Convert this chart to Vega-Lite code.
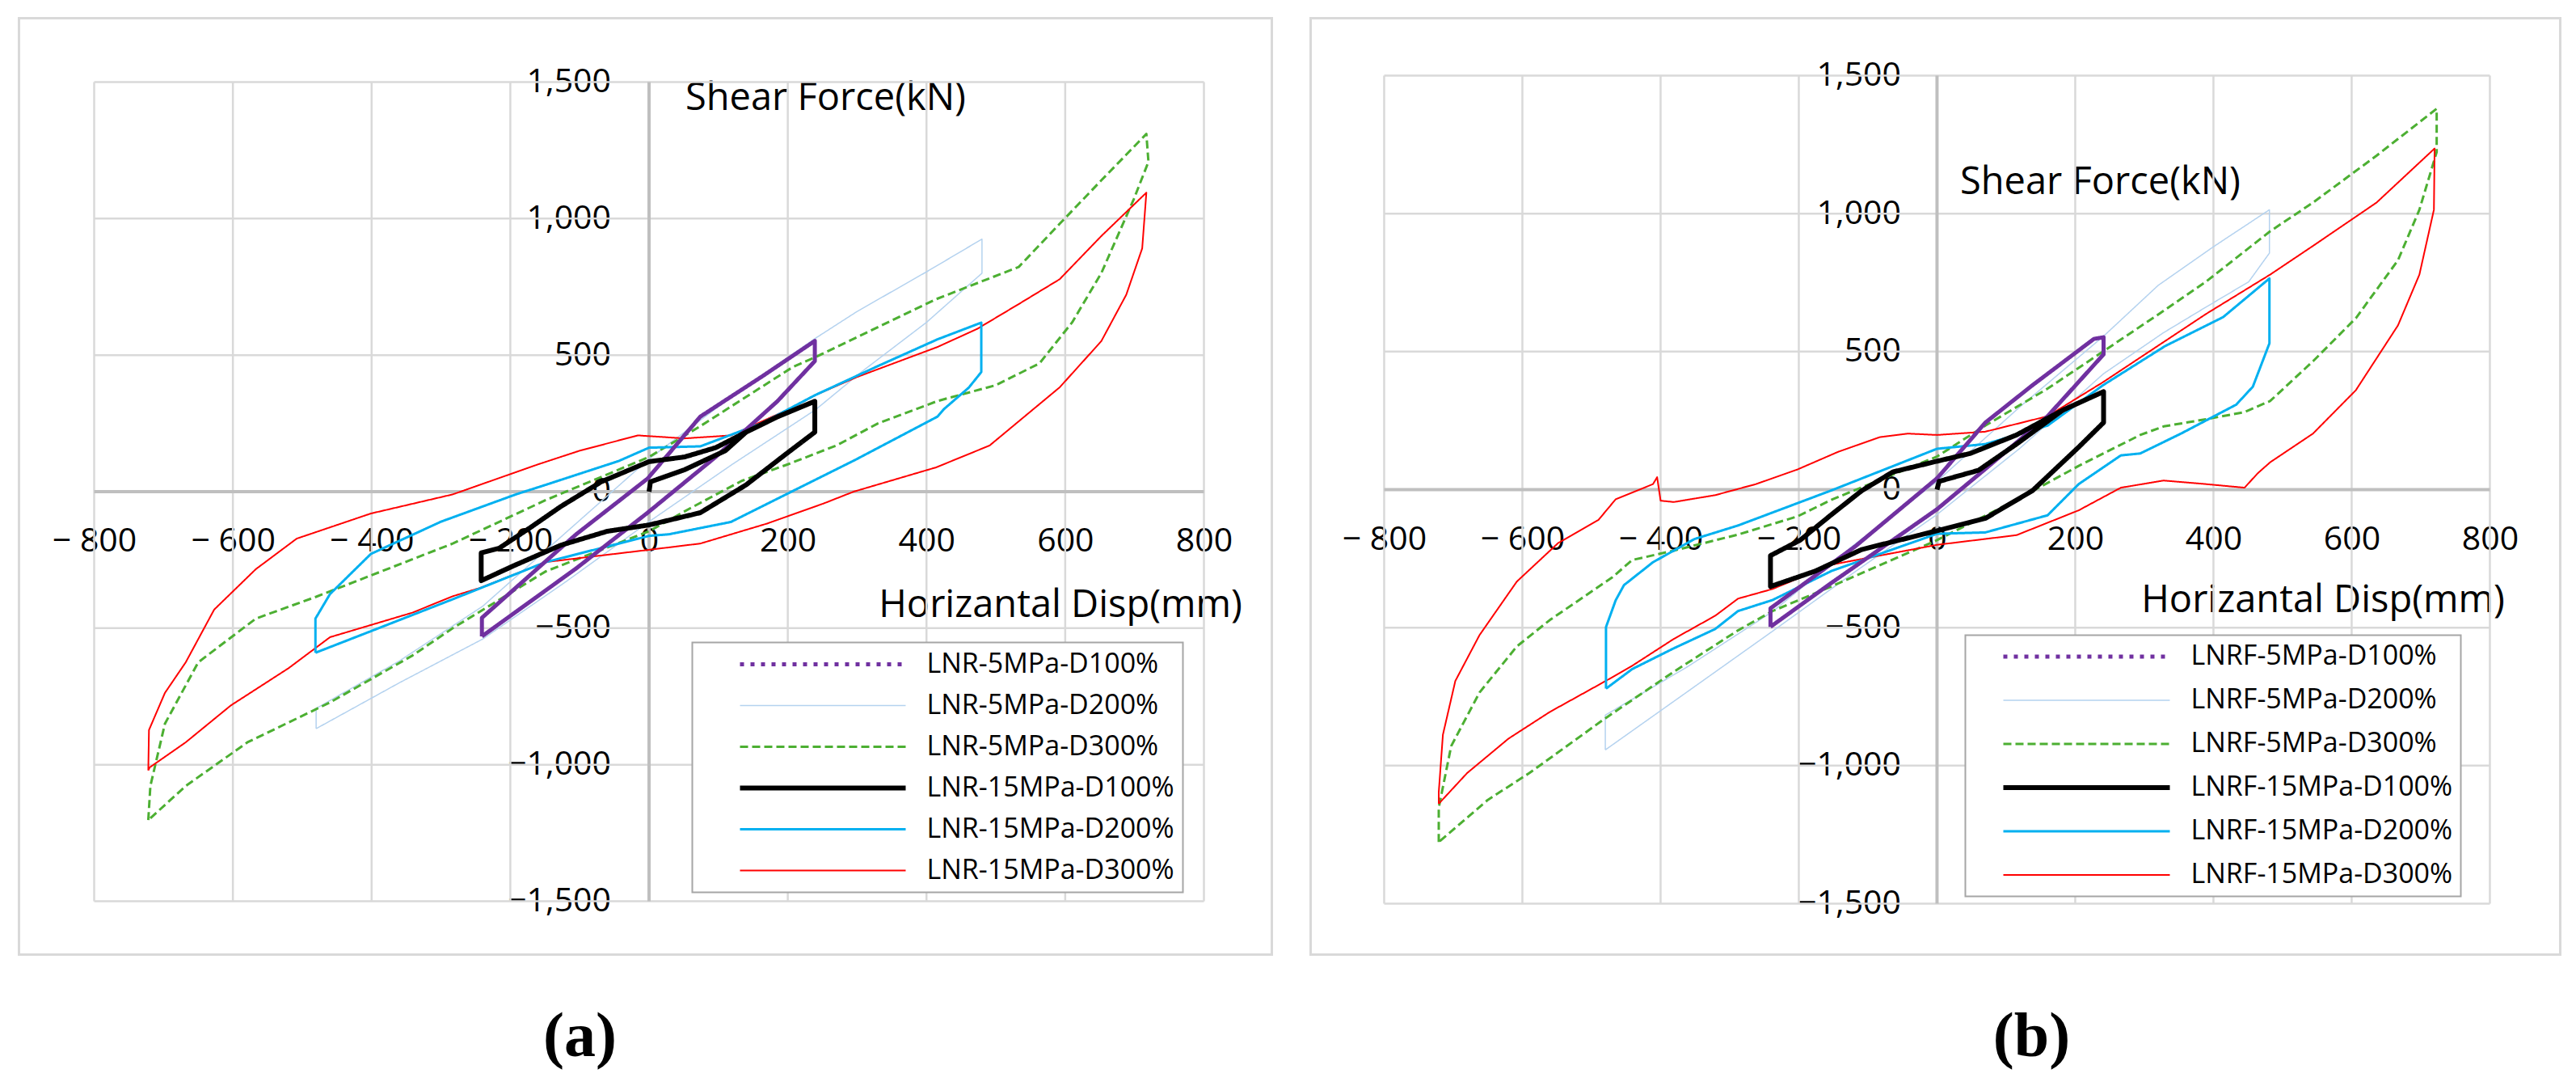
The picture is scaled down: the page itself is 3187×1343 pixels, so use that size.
{
  "$schema": "https://vega.github.io/schema/vega-lite/v6.json",
  "background": "white",
  "padding": {"left": 21.5, "top": 20.5, "right": 18, "bottom": 15},
  "spacing": 48,
  "bounds": "flush",
  "config": {
    "font": "Open Sans",
    "view": {"stroke": "#d9d9d9", "strokeWidth": 3},
    "axis": {"grid": false, "domain": false, "ticks": false, "tickSize": 0, "labelFont": "Open Sans", "labelFontSize": 41, "labelColor": "black", "labelOverlap": false, "labelFlush": false, "titleFont": "Open Sans", "titleFontSize": 47, "titleFontWeight": "normal", "titleColor": "black"},
    "legend": {"labelFont": "Open Sans", "labelFontSize": 34, "labelColor": "black", "labelLimit": 0, "fillColor": "white", "strokeColor": "#a6a6a6", "strokeWidth": 2}
  },
  "datasets": {
    "a": [
      {"s":"LNR-5MPa-D200%","x":-480,"y":-868},{"s":"LNR-5MPa-D200%","x":-360,"y":-700},{"s":"LNR-5MPa-D200%","x":-240,"y":-540},{"s":"LNR-5MPa-D200%","x":-120,"y":-330},{"s":"LNR-5MPa-D200%","x":0,"y":-110},{"s":"LNR-5MPa-D200%","x":120,"y":100},{"s":"LNR-5MPa-D200%","x":240,"y":300},{"s":"LNR-5MPa-D200%","x":307,"y":440},{"s":"LNR-5MPa-D200%","x":400,"y":620},{"s":"LNR-5MPa-D200%","x":480,"y":800},{"s":"LNR-5MPa-D200%","x":480,"y":925},{"s":"LNR-5MPa-D200%","x":400,"y":805},{"s":"LNR-5MPa-D200%","x":300,"y":660},{"s":"LNR-5MPa-D200%","x":240,"y":562},{"s":"LNR-5MPa-D200%","x":120,"y":350},{"s":"LNR-5MPa-D200%","x":0,"y":120},{"s":"LNR-5MPa-D200%","x":-120,"y":-150},{"s":"LNR-5MPa-D200%","x":-240,"y":-420},{"s":"LNR-5MPa-D200%","x":-360,"y":-620},{"s":"LNR-5MPa-D200%","x":-480,"y":-794},{"s":"LNR-5MPa-D200%","x":-480,"y":-868},

      {"s":"LNR-5MPa-D300%","x":-722,"y":-1203},{"s":"LNR-5MPa-D300%","x":-719,"y":-1078},{"s":"LNR-5MPa-D300%","x":-698,"y":-850},{"s":"LNR-5MPa-D300%","x":-650,"y":-625},{"s":"LNR-5MPa-D300%","x":-567,"y":-465},{"s":"LNR-5MPa-D300%","x":-480,"y":-385},{"s":"LNR-5MPa-D300%","x":-401,"y":-307},{"s":"LNR-5MPa-D300%","x":-283,"y":-190},{"s":"LNR-5MPa-D300%","x":-149,"y":-31},{"s":"LNR-5MPa-D300%","x":0,"y":127},{"s":"LNR-5MPa-D300%","x":74,"y":240},{"s":"LNR-5MPa-D300%","x":207,"y":456},{"s":"LNR-5MPa-D300%","x":241,"y":494},{"s":"LNR-5MPa-D300%","x":414,"y":705},{"s":"LNR-5MPa-D300%","x":533,"y":823},{"s":"LNR-5MPa-D300%","x":592,"y":981},{"s":"LNR-5MPa-D300%","x":652,"y":1140},{"s":"LNR-5MPa-D300%","x":717,"y":1310},{"s":"LNR-5MPa-D300%","x":720,"y":1208},{"s":"LNR-5MPa-D300%","x":699,"y":1072},{"s":"LNR-5MPa-D300%","x":652,"y":800},{"s":"LNR-5MPa-D300%","x":610,"y":620},{"s":"LNR-5MPa-D300%","x":563,"y":470},{"s":"LNR-5MPa-D300%","x":500,"y":390},{"s":"LNR-5MPa-D300%","x":416,"y":332},{"s":"LNR-5MPa-D300%","x":330,"y":250},{"s":"LNR-5MPa-D300%","x":271,"y":170},{"s":"LNR-5MPa-D300%","x":200,"y":100},{"s":"LNR-5MPa-D300%","x":134,"y":40},{"s":"LNR-5MPa-D300%","x":60,"y":-60},{"s":"LNR-5MPa-D300%","x":0,"y":-145},{"s":"LNR-5MPa-D300%","x":-149,"y":-292},{"s":"LNR-5MPa-D300%","x":-283,"y":-500},{"s":"LNR-5MPa-D300%","x":-341,"y":-600},{"s":"LNR-5MPa-D300%","x":-460,"y":-772},{"s":"LNR-5MPa-D300%","x":-579,"y":-918},{"s":"LNR-5MPa-D300%","x":-668,"y":-1078},{"s":"LNR-5MPa-D300%","x":-722,"y":-1203},

      {"s":"LNR-15MPa-D300%","x":-722,"y":-1021},{"s":"LNR-15MPa-D300%","x":-721,"y":-873},{"s":"LNR-15MPa-D300%","x":-698,"y":-737},{"s":"LNR-15MPa-D300%","x":-668,"y":-625},{"s":"LNR-15MPa-D300%","x":-627,"y":-432},{"s":"LNR-15MPa-D300%","x":-567,"y":-284},{"s":"LNR-15MPa-D300%","x":-508,"y":-172},{"s":"LNR-15MPa-D300%","x":-401,"y":-80},{"s":"LNR-15MPa-D300%","x":-283,"y":-10},{"s":"LNR-15MPa-D300%","x":-160,"y":100},{"s":"LNR-15MPa-D300%","x":-100,"y":150},{"s":"LNR-15MPa-D300%","x":-16,"y":206},{"s":"LNR-15MPa-D300%","x":51,"y":195},{"s":"LNR-15MPa-D300%","x":118,"y":206},{"s":"LNR-15MPa-D300%","x":207,"y":308},{"s":"LNR-15MPa-D300%","x":239,"y":353},{"s":"LNR-15MPa-D300%","x":300,"y":420},{"s":"LNR-15MPa-D300%","x":416,"y":530},{"s":"LNR-15MPa-D300%","x":473,"y":596},{"s":"LNR-15MPa-D300%","x":533,"y":687},{"s":"LNR-15MPa-D300%","x":592,"y":778},{"s":"LNR-15MPa-D300%","x":652,"y":936},{"s":"LNR-15MPa-D300%","x":717,"y":1095},{"s":"LNR-15MPa-D300%","x":711,"y":891},{"s":"LNR-15MPa-D300%","x":688,"y":721},{"s":"LNR-15MPa-D300%","x":652,"y":551},{"s":"LNR-15MPa-D300%","x":592,"y":382},{"s":"LNR-15MPa-D300%","x":491,"y":169},{"s":"LNR-15MPa-D300%","x":414,"y":89},{"s":"LNR-15MPa-D300%","x":295,"y":0},{"s":"LNR-15MPa-D300%","x":252,"y":-43},{"s":"LNR-15MPa-D300%","x":170,"y":-117},{"s":"LNR-15MPa-D300%","x":74,"y":-190},{"s":"LNR-15MPa-D300%","x":0,"y":-213},{"s":"LNR-15MPa-D300%","x":-149,"y":-258},{"s":"LNR-15MPa-D300%","x":-243,"y":-352},{"s":"LNR-15MPa-D300%","x":-283,"y":-383},{"s":"LNR-15MPa-D300%","x":-341,"y":-443},{"s":"LNR-15MPa-D300%","x":-460,"y":-533},{"s":"LNR-15MPa-D300%","x":-520,"y":-647},{"s":"LNR-15MPa-D300%","x":-603,"y":-783},{"s":"LNR-15MPa-D300%","x":-668,"y":-918},{"s":"LNR-15MPa-D300%","x":-720,"y":-1010},{"s":"LNR-15MPa-D300%","x":-722,"y":-1021},

      {"s":"LNR-15MPa-D200%","x":-481,"y":-590},{"s":"LNR-15MPa-D200%","x":-481,"y":-465},{"s":"LNR-15MPa-D200%","x":-460,"y":-375},{"s":"LNR-15MPa-D200%","x":-401,"y":-228},{"s":"LNR-15MPa-D200%","x":-300,"y":-110},{"s":"LNR-15MPa-D200%","x":-192,"y":-10},{"s":"LNR-15MPa-D200%","x":-149,"y":25},{"s":"LNR-15MPa-D200%","x":-44,"y":112},{"s":"LNR-15MPa-D200%","x":0,"y":161},{"s":"LNR-15MPa-D200%","x":74,"y":166},{"s":"LNR-15MPa-D200%","x":163,"y":251},{"s":"LNR-15MPa-D200%","x":239,"y":353},{"s":"LNR-15MPa-D200%","x":330,"y":460},{"s":"LNR-15MPa-D200%","x":416,"y":558},{"s":"LNR-15MPa-D200%","x":479,"y":619},{"s":"LNR-15MPa-D200%","x":479,"y":438},{"s":"LNR-15MPa-D200%","x":461,"y":381},{"s":"LNR-15MPa-D200%","x":425,"y":302},{"s":"LNR-15MPa-D200%","x":416,"y":275},{"s":"LNR-15MPa-D200%","x":297,"y":116},{"s":"LNR-15MPa-D200%","x":207,"y":2},{"s":"LNR-15MPa-D200%","x":118,"y":-111},{"s":"LNR-15MPa-D200%","x":29,"y":-156},{"s":"LNR-15MPa-D200%","x":0,"y":-162},{"s":"LNR-15MPa-D200%","x":-149,"y":-258},{"s":"LNR-15MPa-D200%","x":-283,"y":-394},{"s":"LNR-15MPa-D200%","x":-401,"y":-511},{"s":"LNR-15MPa-D200%","x":-481,"y":-590},

      {"s":"LNR-5MPa-D100%","x":-241,"y":-530},{"s":"LNR-5MPa-D100%","x":-105,"y":-281},{"s":"LNR-5MPa-D100%","x":-2,"y":-77},{"s":"LNR-5MPa-D100%","x":96,"y":127},{"s":"LNR-5MPa-D100%","x":185,"y":331},{"s":"LNR-5MPa-D100%","x":239,"y":478},{"s":"LNR-5MPa-D100%","x":239,"y":552},{"s":"LNR-5MPa-D100%","x":163,"y":422},{"s":"LNR-5MPa-D100%","x":74,"y":275},{"s":"LNR-5MPa-D100%","x":-2,"y":48},{"s":"LNR-5MPa-D100%","x":-105,"y":-156},{"s":"LNR-5MPa-D100%","x":-241,"y":-462},{"s":"LNR-5MPa-D100%","x":-241,"y":-530},

      {"s":"LNR-15MPa-D100%","x":0,"y":0},{"s":"LNR-15MPa-D100%","x":2,"y":36},{"s":"LNR-15MPa-D100%","x":51,"y":80},{"s":"LNR-15MPa-D100%","x":110,"y":150},{"s":"LNR-15MPa-D100%","x":140,"y":218},{"s":"LNR-15MPa-D100%","x":185,"y":274},{"s":"LNR-15MPa-D100%","x":239,"y":331},{"s":"LNR-15MPa-D100%","x":239,"y":218},{"s":"LNR-15MPa-D100%","x":198,"y":139},{"s":"LNR-15MPa-D100%","x":140,"y":25},{"s":"LNR-15MPa-D100%","x":74,"y":-77},{"s":"LNR-15MPa-D100%","x":0,"y":-122},{"s":"LNR-15MPa-D100%","x":-60,"y":-145},{"s":"LNR-15MPa-D100%","x":-127,"y":-196},{"s":"LNR-15MPa-D100%","x":-194,"y":-270},{"s":"LNR-15MPa-D100%","x":-242,"y":-326},{"s":"LNR-15MPa-D100%","x":-242,"y":-224},{"s":"LNR-15MPa-D100%","x":-216,"y":-207},{"s":"LNR-15MPa-D100%","x":-172,"y":-133},{"s":"LNR-15MPa-D100%","x":-127,"y":-54},{"s":"LNR-15MPa-D100%","x":-69,"y":36},{"s":"LNR-15MPa-D100%","x":0,"y":110},{"s":"LNR-15MPa-D100%","x":51,"y":127},{"s":"LNR-15MPa-D100%","x":96,"y":161},{"s":"LNR-15MPa-D100%","x":140,"y":218},{"s":"LNR-15MPa-D100%","x":185,"y":274},{"s":"LNR-15MPa-D100%","x":239,"y":331}
    ],
    "b": [
      {"s":"LNRF-5MPa-D200%","x":-480,"y":-943},{"s":"LNRF-5MPa-D200%","x":-360,"y":-730},{"s":"LNRF-5MPa-D200%","x":-238,"y":-513},{"s":"LNRF-5MPa-D200%","x":-120,"y":-300},{"s":"LNRF-5MPa-D200%","x":0,"y":-90},{"s":"LNRF-5MPa-D200%","x":120,"y":150},{"s":"LNRF-5MPa-D200%","x":241,"y":420},{"s":"LNRF-5MPa-D200%","x":328,"y":569},{"s":"LNRF-5MPa-D200%","x":389,"y":661},{"s":"LNRF-5MPa-D200%","x":451,"y":753},{"s":"LNRF-5MPa-D200%","x":481,"y":857},{"s":"LNRF-5MPa-D200%","x":481,"y":1014},{"s":"LNRF-5MPa-D200%","x":400,"y":880},{"s":"LNRF-5MPa-D200%","x":320,"y":740},{"s":"LNRF-5MPa-D200%","x":241,"y":556},{"s":"LNRF-5MPa-D200%","x":120,"y":300},{"s":"LNRF-5MPa-D200%","x":0,"y":30},{"s":"LNRF-5MPa-D200%","x":-120,"y":-200},{"s":"LNRF-5MPa-D200%","x":-238,"y":-442},{"s":"LNRF-5MPa-D200%","x":-360,"y":-640},{"s":"LNRF-5MPa-D200%","x":-480,"y":-817},{"s":"LNRF-5MPa-D200%","x":-480,"y":-943},

      {"s":"LNRF-5MPa-D300%","x":-721,"y":-1277},{"s":"LNRF-5MPa-D300%","x":-721,"y":-1152},{"s":"LNRF-5MPa-D300%","x":-703,"y":-929},{"s":"LNRF-5MPa-D300%","x":-662,"y":-735},{"s":"LNRF-5MPa-D300%","x":-608,"y":-568},{"s":"LNRF-5MPa-D300%","x":-560,"y":-472},{"s":"LNRF-5MPa-D300%","x":-470,"y":-318},{"s":"LNRF-5MPa-D300%","x":-441,"y":-255},{"s":"LNRF-5MPa-D300%","x":-381,"y":-221},{"s":"LNRF-5MPa-D300%","x":-288,"y":-163},{"s":"LNRF-5MPa-D300%","x":-202,"y":-97},{"s":"LNRF-5MPa-D300%","x":-153,"y":-37},{"s":"LNRF-5MPa-D300%","x":0,"y":120},{"s":"LNRF-5MPa-D300%","x":70,"y":232},{"s":"LNRF-5MPa-D300%","x":160,"y":366},{"s":"LNRF-5MPa-D300%","x":249,"y":515},{"s":"LNRF-5MPa-D300%","x":328,"y":648},{"s":"LNRF-5MPa-D300%","x":389,"y":753},{"s":"LNRF-5MPa-D300%","x":482,"y":936},{"s":"LNRF-5MPa-D300%","x":544,"y":1040},{"s":"LNRF-5MPa-D300%","x":636,"y":1210},{"s":"LNRF-5MPa-D300%","x":723,"y":1380},{"s":"LNRF-5MPa-D300%","x":723,"y":1223},{"s":"LNRF-5MPa-D300%","x":698,"y":1014},{"s":"LNRF-5MPa-D300%","x":667,"y":831},{"s":"LNRF-5MPa-D300%","x":606,"y":621},{"s":"LNRF-5MPa-D300%","x":544,"y":465},{"s":"LNRF-5MPa-D300%","x":482,"y":321},{"s":"LNRF-5MPa-D300%","x":445,"y":281},{"s":"LNRF-5MPa-D300%","x":389,"y":255},{"s":"LNRF-5MPa-D300%","x":328,"y":229},{"s":"LNRF-5MPa-D300%","x":294,"y":198},{"s":"LNRF-5MPa-D300%","x":205,"y":86},{"s":"LNRF-5MPa-D300%","x":115,"y":-37},{"s":"LNRF-5MPa-D300%","x":0,"y":-183},{"s":"LNRF-5MPa-D300%","x":-153,"y":-351},{"s":"LNRF-5MPa-D300%","x":-238,"y":-440},{"s":"LNRF-5MPa-D300%","x":-288,"y":-510},{"s":"LNRF-5MPa-D300%","x":-381,"y":-660},{"s":"LNRF-5MPa-D300%","x":-441,"y":-762},{"s":"LNRF-5MPa-D300%","x":-482,"y":-832},{"s":"LNRF-5MPa-D300%","x":-590,"y":-1027},{"s":"LNRF-5MPa-D300%","x":-650,"y":-1124},{"s":"LNRF-5MPa-D300%","x":-721,"y":-1277},

      {"s":"LNRF-15MPa-D300%","x":-721,"y":-1138},{"s":"LNRF-15MPa-D300%","x":-721,"y":-1096},{"s":"LNRF-15MPa-D300%","x":-715,"y":-888},{"s":"LNRF-15MPa-D300%","x":-697,"y":-693},{"s":"LNRF-15MPa-D300%","x":-662,"y":-527},{"s":"LNRF-15MPa-D300%","x":-608,"y":-333},{"s":"LNRF-15MPa-D300%","x":-548,"y":-193},{"s":"LNRF-15MPa-D300%","x":-490,"y":-110},{"s":"LNRF-15MPa-D300%","x":-465,"y":-35},{"s":"LNRF-15MPa-D300%","x":-411,"y":20},{"s":"LNRF-15MPa-D300%","x":-405,"y":45},{"s":"LNRF-15MPa-D300%","x":-400,"y":-40},{"s":"LNRF-15MPa-D300%","x":-381,"y":-45},{"s":"LNRF-15MPa-D300%","x":-321,"y":-20},{"s":"LNRF-15MPa-D300%","x":-262,"y":20},{"s":"LNRF-15MPa-D300%","x":-202,"y":73},{"s":"LNRF-15MPa-D300%","x":-143,"y":137},{"s":"LNRF-15MPa-D300%","x":-83,"y":190},{"s":"LNRF-15MPa-D300%","x":-42,"y":203},{"s":"LNRF-15MPa-D300%","x":0,"y":198},{"s":"LNRF-15MPa-D300%","x":70,"y":210},{"s":"LNRF-15MPa-D300%","x":160,"y":266},{"s":"LNRF-15MPa-D300%","x":240,"y":389},{"s":"LNRF-15MPa-D300%","x":389,"y":636},{"s":"LNRF-15MPa-D300%","x":482,"y":779},{"s":"LNRF-15MPa-D300%","x":544,"y":883},{"s":"LNRF-15MPa-D300%","x":636,"y":1040},{"s":"LNRF-15MPa-D300%","x":720,"y":1236},{"s":"LNRF-15MPa-D300%","x":719,"y":1014},{"s":"LNRF-15MPa-D300%","x":698,"y":779},{"s":"LNRF-15MPa-D300%","x":667,"y":595},{"s":"LNRF-15MPa-D300%","x":606,"y":360},{"s":"LNRF-15MPa-D300%","x":544,"y":203},{"s":"LNRF-15MPa-D300%","x":482,"y":99},{"s":"LNRF-15MPa-D300%","x":464,"y":59},{"s":"LNRF-15MPa-D300%","x":445,"y":7},{"s":"LNRF-15MPa-D300%","x":389,"y":20},{"s":"LNRF-15MPa-D300%","x":328,"y":33},{"s":"LNRF-15MPa-D300%","x":266,"y":7},{"s":"LNRF-15MPa-D300%","x":205,"y":-75},{"s":"LNRF-15MPa-D300%","x":115,"y":-165},{"s":"LNRF-15MPa-D300%","x":0,"y":-200},{"s":"LNRF-15MPa-D300%","x":-153,"y":-272},{"s":"LNRF-15MPa-D300%","x":-238,"y":-360},{"s":"LNRF-15MPa-D300%","x":-288,"y":-395},{"s":"LNRF-15MPa-D300%","x":-321,"y":-457},{"s":"LNRF-15MPa-D300%","x":-381,"y":-541},{"s":"LNRF-15MPa-D300%","x":-441,"y":-638},{"s":"LNRF-15MPa-D300%","x":-480,"y":-694},{"s":"LNRF-15MPa-D300%","x":-560,"y":-805},{"s":"LNRF-15MPa-D300%","x":-620,"y":-902},{"s":"LNRF-15MPa-D300%","x":-680,"y":-1027},{"s":"LNRF-15MPa-D300%","x":-721,"y":-1138},

      {"s":"LNRF-15MPa-D200%","x":-479,"y":-721},{"s":"LNRF-15MPa-D200%","x":-479,"y":-498},{"s":"LNRF-15MPa-D200%","x":-465,"y":-401},{"s":"LNRF-15MPa-D200%","x":-453,"y":-346},{"s":"LNRF-15MPa-D200%","x":-411,"y":-263},{"s":"LNRF-15MPa-D200%","x":-351,"y":-179},{"s":"LNRF-15MPa-D200%","x":-288,"y":-130},{"s":"LNRF-15MPa-D200%","x":-153,"y":-3},{"s":"LNRF-15MPa-D200%","x":0,"y":148},{"s":"LNRF-15MPa-D200%","x":70,"y":165},{"s":"LNRF-15MPa-D200%","x":160,"y":232},{"s":"LNRF-15MPa-D200%","x":240,"y":378},{"s":"LNRF-15MPa-D200%","x":330,"y":520},{"s":"LNRF-15MPa-D200%","x":414,"y":625},{"s":"LNRF-15MPa-D200%","x":481,"y":765},{"s":"LNRF-15MPa-D200%","x":481,"y":530},{"s":"LNRF-15MPa-D200%","x":457,"y":373},{"s":"LNRF-15MPa-D200%","x":433,"y":308},{"s":"LNRF-15MPa-D200%","x":353,"y":203},{"s":"LNRF-15MPa-D200%","x":294,"y":131},{"s":"LNRF-15MPa-D200%","x":266,"y":124},{"s":"LNRF-15MPa-D200%","x":205,"y":20},{"s":"LNRF-15MPa-D200%","x":160,"y":-93},{"s":"LNRF-15MPa-D200%","x":70,"y":-155},{"s":"LNRF-15MPa-D200%","x":0,"y":-160},{"s":"LNRF-15MPa-D200%","x":-153,"y":-295},{"s":"LNRF-15MPa-D200%","x":-238,"y":-400},{"s":"LNRF-15MPa-D200%","x":-288,"y":-440},{"s":"LNRF-15MPa-D200%","x":-321,"y":-505},{"s":"LNRF-15MPa-D200%","x":-381,"y":-575},{"s":"LNRF-15MPa-D200%","x":-441,"y":-650},{"s":"LNRF-15MPa-D200%","x":-479,"y":-721},

      {"s":"LNRF-5MPa-D100%","x":-241,"y":-497},{"s":"LNRF-5MPa-D100%","x":-154,"y":-340},{"s":"LNRF-5MPa-D100%","x":-64,"y":-183},{"s":"LNRF-5MPa-D100%","x":0,"y":-71},{"s":"LNRF-5MPa-D100%","x":70,"y":75},{"s":"LNRF-5MPa-D100%","x":160,"y":266},{"s":"LNRF-5MPa-D100%","x":241,"y":490},{"s":"LNRF-5MPa-D100%","x":241,"y":552},{"s":"LNRF-5MPa-D100%","x":227,"y":546},{"s":"LNRF-5MPa-D100%","x":138,"y":378},{"s":"LNRF-5MPa-D100%","x":70,"y":243},{"s":"LNRF-5MPa-D100%","x":0,"y":41},{"s":"LNRF-5MPa-D100%","x":-118,"y":-205},{"s":"LNRF-5MPa-D100%","x":-241,"y":-430},{"s":"LNRF-5MPa-D100%","x":-241,"y":-497},

      {"s":"LNRF-15MPa-D100%","x":0,"y":0},{"s":"LNRF-15MPa-D100%","x":3,"y":30},{"s":"LNRF-15MPa-D100%","x":60,"y":70},{"s":"LNRF-15MPa-D100%","x":115,"y":165},{"s":"LNRF-15MPa-D100%","x":182,"y":288},{"s":"LNRF-15MPa-D100%","x":241,"y":355},{"s":"LNRF-15MPa-D100%","x":241,"y":243},{"s":"LNRF-15MPa-D100%","x":205,"y":154},{"s":"LNRF-15MPa-D100%","x":138,"y":-4},{"s":"LNRF-15MPa-D100%","x":70,"y":-104},{"s":"LNRF-15MPa-D100%","x":0,"y":-149},{"s":"LNRF-15MPa-D100%","x":-109,"y":-217},{"s":"LNRF-15MPa-D100%","x":-176,"y":-295},{"s":"LNRF-15MPa-D100%","x":-241,"y":-351},{"s":"LNRF-15MPa-D100%","x":-241,"y":-239},{"s":"LNRF-15MPa-D100%","x":-198,"y":-183},{"s":"LNRF-15MPa-D100%","x":-154,"y":-93},{"s":"LNRF-15MPa-D100%","x":-109,"y":-4},{"s":"LNRF-15MPa-D100%","x":-64,"y":64},{"s":"LNRF-15MPa-D100%","x":0,"y":103},{"s":"LNRF-15MPa-D100%","x":48,"y":131},{"s":"LNRF-15MPa-D100%","x":115,"y":198},{"s":"LNRF-15MPa-D100%","x":182,"y":288},{"s":"LNRF-15MPa-D100%","x":241,"y":355}
    ]
  },
  "resolve": {
    "scale": {"x": "independent", "y": "independent", "color": "independent", "strokeWidth": "independent"},
    "axis": {"x": "independent", "y": "independent"},
    "legend": {"color": "independent", "strokeWidth": "independent"}
  },
  "hconcat": [
    {
      "width": 1550,
      "height": 1158,
      "title": {"text": "(a)", "orient": "bottom", "frame": "group", "anchor": "middle", "dx": -81, "offset": 125, "baseline": "alphabetic", "font": "Liberation Serif", "fontSize": 78, "fontWeight": "bold", "color": "black"},
      "layer": [
        {
          "data": {"values": [{"x": -800}, {"x": -600}, {"x": -400}, {"x": -200}, {"x": 200}, {"x": 400}, {"x": 600}, {"x": 800}]},
          "mark": {"type": "rule", "color": "#d9d9d9", "strokeWidth": 2.5},
          "encoding": {
            "x": {"field": "x", "type": "quantitative", "scale": {"domain": [-908.4, 897.9], "nice": false, "zero": false},
                  "axis": {"orient": "bottom", "offset": -572.5, "values": [-800, -600, -400, -200, 0, 200, 400, 600, 800], "labelPadding": 61.5, "labelBaseline": "middle", "labelExpr": "datum.value < 0 ? '− ' + format(-datum.value, 'd') : format(datum.value, 'd')", "title": "Horizantal Disp(mm)", "titleX": 1513, "titleY": 154.5, "titleAlign": "right", "titleBaseline": "alphabetic", "titleAngle": 0}},
            "y": {"datum": -1500, "type": "quantitative", "scale": {"domain": [-1695.5, 1734], "nice": false, "zero": false},
                  "axis": {"orient": "left", "offset": -779.5, "values": [-1500, -1000, -500, 0, 500, 1000, 1500], "format": ",d", "labelPadding": 47.5, "title": "Shear Force(kN)", "titleAngle": 0, "titleX": 44.5, "titleY": 112.7, "titleAlign": "left", "titleBaseline": "alphabetic"}},
            "y2": {"datum": 1500}
          }
        },
        {
          "data": {"values": [{"y": -1500}, {"y": -1000}, {"y": -500}, {"y": 500}, {"y": 1000}, {"y": 1500}]},
          "mark": {"type": "rule", "color": "#d9d9d9", "strokeWidth": 2.5},
          "encoding": {
            "y": {"field": "y", "type": "quantitative", "scale": {"domain": [-1695.5, 1734], "nice": false, "zero": false},
                  "axis": {"orient": "left", "offset": -779.5, "values": [-1500, -1000, -500, 0, 500, 1000, 1500], "format": ",d", "labelPadding": 47.5, "title": "Shear Force(kN)", "titleAngle": 0, "titleX": 44.5, "titleY": 112.7, "titleAlign": "left", "titleBaseline": "alphabetic"}},
            "x": {"datum": -800, "type": "quantitative", "scale": {"domain": [-908.4, 897.9], "nice": false, "zero": false},
                  "axis": {"orient": "bottom", "offset": -572.5, "values": [-800, -600, -400, -200, 0, 200, 400, 600, 800], "labelPadding": 61.5, "labelBaseline": "middle", "labelExpr": "datum.value < 0 ? '− ' + format(-datum.value, 'd') : format(datum.value, 'd')", "title": "Horizantal Disp(mm)", "titleX": 1513, "titleY": 154.5, "titleAlign": "right", "titleBaseline": "alphabetic", "titleAngle": 0}},
            "x2": {"datum": 800}
          }
        },
        {
          "data": {"values": [{}]},
          "mark": {"type": "rule", "color": "#bfbfbf", "strokeWidth": 4},
          "encoding": {
            "x": {"datum": 0, "type": "quantitative", "scale": {"domain": [-908.4, 897.9], "nice": false, "zero": false},
                  "axis": {"orient": "bottom", "offset": -572.5, "values": [-800, -600, -400, -200, 0, 200, 400, 600, 800], "labelPadding": 61.5, "labelBaseline": "middle", "labelExpr": "datum.value < 0 ? '− ' + format(-datum.value, 'd') : format(datum.value, 'd')", "title": "Horizantal Disp(mm)", "titleX": 1513, "titleY": 154.5, "titleAlign": "right", "titleBaseline": "alphabetic", "titleAngle": 0}},
            "y": {"datum": -1500, "type": "quantitative", "scale": {"domain": [-1695.5, 1734], "nice": false, "zero": false},
                  "axis": {"orient": "left", "offset": -779.5, "values": [-1500, -1000, -500, 0, 500, 1000, 1500], "format": ",d", "labelPadding": 47.5, "title": "Shear Force(kN)", "titleAngle": 0, "titleX": 44.5, "titleY": 112.7, "titleAlign": "left", "titleBaseline": "alphabetic"}},
            "y2": {"datum": 1500}
          }
        },
        {
          "data": {"values": [{}]},
          "mark": {"type": "rule", "color": "#bfbfbf", "strokeWidth": 4},
          "encoding": {
            "y": {"datum": 0, "type": "quantitative", "scale": {"domain": [-1695.5, 1734], "nice": false, "zero": false},
                  "axis": {"orient": "left", "offset": -779.5, "values": [-1500, -1000, -500, 0, 500, 1000, 1500], "format": ",d", "labelPadding": 47.5, "title": "Shear Force(kN)", "titleAngle": 0, "titleX": 44.5, "titleY": 112.7, "titleAlign": "left", "titleBaseline": "alphabetic"}},
            "x": {"datum": -800, "type": "quantitative", "scale": {"domain": [-908.4, 897.9], "nice": false, "zero": false},
                  "axis": {"orient": "bottom", "offset": -572.5, "values": [-800, -600, -400, -200, 0, 200, 400, 600, 800], "labelPadding": 61.5, "labelBaseline": "middle", "labelExpr": "datum.value < 0 ? '− ' + format(-datum.value, 'd') : format(datum.value, 'd')", "title": "Horizantal Disp(mm)", "titleX": 1513, "titleY": 154.5, "titleAlign": "right", "titleBaseline": "alphabetic", "titleAngle": 0}},
            "x2": {"datum": 800}
          }
        },
        {
          "data": {"name": "a"},
          "mark": {"type": "line", "strokeJoin": "round"},
          "encoding": {
            "x": {"field": "x", "type": "quantitative", "scale": {"domain": [-908.4, 897.9], "nice": false, "zero": false},
                  "axis": {"orient": "bottom", "offset": -572.5, "values": [-800, -600, -400, -200, 0, 200, 400, 600, 800], "labelPadding": 61.5, "labelBaseline": "middle", "labelExpr": "datum.value < 0 ? '− ' + format(-datum.value, 'd') : format(datum.value, 'd')", "title": "Horizantal Disp(mm)", "titleX": 1513, "titleY": 154.5, "titleAlign": "right", "titleBaseline": "alphabetic", "titleAngle": 0}},
            "y": {"field": "y", "type": "quantitative", "scale": {"domain": [-1695.5, 1734], "nice": false, "zero": false},
                  "axis": {"orient": "left", "offset": -779.5, "values": [-1500, -1000, -500, 0, 500, 1000, 1500], "format": ",d", "labelPadding": 47.5, "title": "Shear Force(kN)", "titleAngle": 0, "titleX": 44.5, "titleY": 112.7, "titleAlign": "left", "titleBaseline": "alphabetic"}},
            "order": {"value": null},
            "color": {
              "field": "s", "type": "nominal",
              "scale": {"domain": ["LNR-5MPa-D100%", "LNR-5MPa-D200%", "LNR-5MPa-D300%", "LNR-15MPa-D100%", "LNR-15MPa-D200%", "LNR-15MPa-D300%"], "range": ["#7030a0", "#b4d2ef", "#4caf32", "#000000", "#00b0f0", "#ff0000"]},
              "legend": {"orient": "none", "legendX": 833, "legendY": 772, "title": null, "direction": "vertical", "symbolType": "stroke", "symbolSize": 42025, "clipHeight": 34, "rowPadding": 17, "padding": 10, "symbolOffset": 46, "labelOffset": 23, "encode": {"symbols": {"update": {"strokeDash": {"signal": "indexof(datum.value, '-5MPa-D100') >= 0 ? [5, 8] : indexof(datum.value, '-5MPa-D300') >= 0 ? [10, 5] : [1, 0]"}}}}}
            },
            "strokeWidth": {
              "field": "s", "type": "nominal",
              "scale": {"type": "ordinal", "domain": ["LNR-5MPa-D100%", "LNR-5MPa-D200%", "LNR-5MPa-D300%", "LNR-15MPa-D100%", "LNR-15MPa-D200%", "LNR-15MPa-D300%"], "range": [5, 1.5, 3, 6, 3, 2]},
              "legend": {"orient": "none", "legendX": 833, "legendY": 772, "title": null, "direction": "vertical", "symbolType": "stroke", "symbolSize": 42025, "clipHeight": 34, "rowPadding": 17, "padding": 10, "symbolOffset": 46, "labelOffset": 23, "encode": {"symbols": {"update": {"strokeDash": {"signal": "indexof(datum.value, '-5MPa-D100') >= 0 ? [5, 8] : indexof(datum.value, '-5MPa-D300') >= 0 ? [10, 5] : [1, 0]"}}}}}
            },
            "strokeDash": {"condition": {"test": "indexof(datum.s, '-5MPa-D300') >= 0", "value": [10, 5]}, "value": [1, 0]}
          }
        }
      ]
    },
    {
      "width": 1546,
      "height": 1158,
      "title": {"text": "(b)", "orient": "bottom", "frame": "group", "anchor": "middle", "dx": 119, "offset": 125, "baseline": "alphabetic", "font": "Liberation Serif", "fontSize": 78, "fontWeight": "bold", "color": "black"},
      "layer": [
        {
          "data": {"values": [{"x": -800}, {"x": -600}, {"x": -400}, {"x": -200}, {"x": 200}, {"x": 400}, {"x": 600}, {"x": 800}]},
          "mark": {"type": "rule", "color": "#d9d9d9", "strokeWidth": 2.5},
          "encoding": {
            "x": {"field": "x", "type": "quantitative", "scale": {"domain": [-906.4, 901.8], "nice": false, "zero": false},
                  "axis": {"orient": "bottom", "offset": -575, "values": [-800, -600, -400, -200, 0, 200, 400, 600, 800], "labelPadding": 62.4, "labelBaseline": "middle", "labelExpr": "datum.value < 0 ? '− ' + format(-datum.value, 'd') : format(datum.value, 'd')", "title": "Horizantal Disp(mm)", "titleX": 1477, "titleY": 151, "titleAlign": "right", "titleBaseline": "alphabetic", "titleAngle": 0}},
            "y": {"datum": -1500, "type": "quantitative", "scale": {"domain": [-1684.6, 1708], "nice": false, "zero": false},
                  "axis": {"orient": "left", "offset": -775, "values": [-1500, -1000, -500, 0, 500, 1000, 1500], "format": ",d", "labelPadding": 45, "title": "Shear Force(kN)", "titleAngle": 0, "titleX": 28, "titleY": 216.8, "titleAlign": "left", "titleBaseline": "alphabetic"}},
            "y2": {"datum": 1500}
          }
        },
        {
          "data": {"values": [{"y": -1500}, {"y": -1000}, {"y": -500}, {"y": 500}, {"y": 1000}, {"y": 1500}]},
          "mark": {"type": "rule", "color": "#d9d9d9", "strokeWidth": 2.5},
          "encoding": {
            "y": {"field": "y", "type": "quantitative", "scale": {"domain": [-1684.6, 1708], "nice": false, "zero": false},
                  "axis": {"orient": "left", "offset": -775, "values": [-1500, -1000, -500, 0, 500, 1000, 1500], "format": ",d", "labelPadding": 45, "title": "Shear Force(kN)", "titleAngle": 0, "titleX": 28, "titleY": 216.8, "titleAlign": "left", "titleBaseline": "alphabetic"}},
            "x": {"datum": -800, "type": "quantitative", "scale": {"domain": [-906.4, 901.8], "nice": false, "zero": false},
                  "axis": {"orient": "bottom", "offset": -575, "values": [-800, -600, -400, -200, 0, 200, 400, 600, 800], "labelPadding": 62.4, "labelBaseline": "middle", "labelExpr": "datum.value < 0 ? '− ' + format(-datum.value, 'd') : format(datum.value, 'd')", "title": "Horizantal Disp(mm)", "titleX": 1477, "titleY": 151, "titleAlign": "right", "titleBaseline": "alphabetic", "titleAngle": 0}},
            "x2": {"datum": 800}
          }
        },
        {
          "data": {"values": [{}]},
          "mark": {"type": "rule", "color": "#bfbfbf", "strokeWidth": 4},
          "encoding": {
            "x": {"datum": 0, "type": "quantitative", "scale": {"domain": [-906.4, 901.8], "nice": false, "zero": false},
                  "axis": {"orient": "bottom", "offset": -575, "values": [-800, -600, -400, -200, 0, 200, 400, 600, 800], "labelPadding": 62.4, "labelBaseline": "middle", "labelExpr": "datum.value < 0 ? '− ' + format(-datum.value, 'd') : format(datum.value, 'd')", "title": "Horizantal Disp(mm)", "titleX": 1477, "titleY": 151, "titleAlign": "right", "titleBaseline": "alphabetic", "titleAngle": 0}},
            "y": {"datum": -1500, "type": "quantitative", "scale": {"domain": [-1684.6, 1708], "nice": false, "zero": false},
                  "axis": {"orient": "left", "offset": -775, "values": [-1500, -1000, -500, 0, 500, 1000, 1500], "format": ",d", "labelPadding": 45, "title": "Shear Force(kN)", "titleAngle": 0, "titleX": 28, "titleY": 216.8, "titleAlign": "left", "titleBaseline": "alphabetic"}},
            "y2": {"datum": 1500}
          }
        },
        {
          "data": {"values": [{}]},
          "mark": {"type": "rule", "color": "#bfbfbf", "strokeWidth": 4},
          "encoding": {
            "y": {"datum": 0, "type": "quantitative", "scale": {"domain": [-1684.6, 1708], "nice": false, "zero": false},
                  "axis": {"orient": "left", "offset": -775, "values": [-1500, -1000, -500, 0, 500, 1000, 1500], "format": ",d", "labelPadding": 45, "title": "Shear Force(kN)", "titleAngle": 0, "titleX": 28, "titleY": 216.8, "titleAlign": "left", "titleBaseline": "alphabetic"}},
            "x": {"datum": -800, "type": "quantitative", "scale": {"domain": [-906.4, 901.8], "nice": false, "zero": false},
                  "axis": {"orient": "bottom", "offset": -575, "values": [-800, -600, -400, -200, 0, 200, 400, 600, 800], "labelPadding": 62.4, "labelBaseline": "middle", "labelExpr": "datum.value < 0 ? '− ' + format(-datum.value, 'd') : format(datum.value, 'd')", "title": "Horizantal Disp(mm)", "titleX": 1477, "titleY": 151, "titleAlign": "right", "titleBaseline": "alphabetic", "titleAngle": 0}},
            "x2": {"datum": 800}
          }
        },
        {
          "data": {"name": "b"},
          "mark": {"type": "line", "strokeJoin": "round"},
          "encoding": {
            "x": {"field": "x", "type": "quantitative", "scale": {"domain": [-906.4, 901.8], "nice": false, "zero": false},
                  "axis": {"orient": "bottom", "offset": -575, "values": [-800, -600, -400, -200, 0, 200, 400, 600, 800], "labelPadding": 62.4, "labelBaseline": "middle", "labelExpr": "datum.value < 0 ? '− ' + format(-datum.value, 'd') : format(datum.value, 'd')", "title": "Horizantal Disp(mm)", "titleX": 1477, "titleY": 151, "titleAlign": "right", "titleBaseline": "alphabetic", "titleAngle": 0}},
            "y": {"field": "y", "type": "quantitative", "scale": {"domain": [-1684.6, 1708], "nice": false, "zero": false},
                  "axis": {"orient": "left", "offset": -775, "values": [-1500, -1000, -500, 0, 500, 1000, 1500], "format": ",d", "labelPadding": 45, "title": "Shear Force(kN)", "titleAngle": 0, "titleX": 28, "titleY": 216.8, "titleAlign": "left", "titleBaseline": "alphabetic"}},
            "order": {"value": null},
            "color": {
              "field": "s", "type": "nominal",
              "scale": {"domain": ["LNRF-5MPa-D100%", "LNRF-5MPa-D200%", "LNRF-5MPa-D300%", "LNRF-15MPa-D100%", "LNRF-15MPa-D200%", "LNRF-15MPa-D300%"], "range": ["#7030a0", "#b4d2ef", "#4caf32", "#000000", "#00b0f0", "#ff0000"]},
              "legend": {"orient": "none", "legendX": 810, "legendY": 763, "title": null, "direction": "vertical", "symbolType": "stroke", "symbolSize": 42436, "clipHeight": 34, "rowPadding": 20, "padding": 9.5, "symbolOffset": 34.5, "labelOffset": 23, "encode": {"symbols": {"update": {"strokeDash": {"signal": "indexof(datum.value, '-5MPa-D100') >= 0 ? [5, 8] : indexof(datum.value, '-5MPa-D300') >= 0 ? [10, 5] : [1, 0]"}}}}}
            },
            "strokeWidth": {
              "field": "s", "type": "nominal",
              "scale": {"type": "ordinal", "domain": ["LNRF-5MPa-D100%", "LNRF-5MPa-D200%", "LNRF-5MPa-D300%", "LNRF-15MPa-D100%", "LNRF-15MPa-D200%", "LNRF-15MPa-D300%"], "range": [5, 1.5, 3, 6, 3, 2]},
              "legend": {"orient": "none", "legendX": 810, "legendY": 763, "title": null, "direction": "vertical", "symbolType": "stroke", "symbolSize": 42436, "clipHeight": 34, "rowPadding": 20, "padding": 9.5, "symbolOffset": 34.5, "labelOffset": 23, "encode": {"symbols": {"update": {"strokeDash": {"signal": "indexof(datum.value, '-5MPa-D100') >= 0 ? [5, 8] : indexof(datum.value, '-5MPa-D300') >= 0 ? [10, 5] : [1, 0]"}}}}}
            },
            "strokeDash": {"condition": {"test": "indexof(datum.s, '-5MPa-D300') >= 0", "value": [10, 5]}, "value": [1, 0]}
          }
        }
      ]
    }
  ]
}
